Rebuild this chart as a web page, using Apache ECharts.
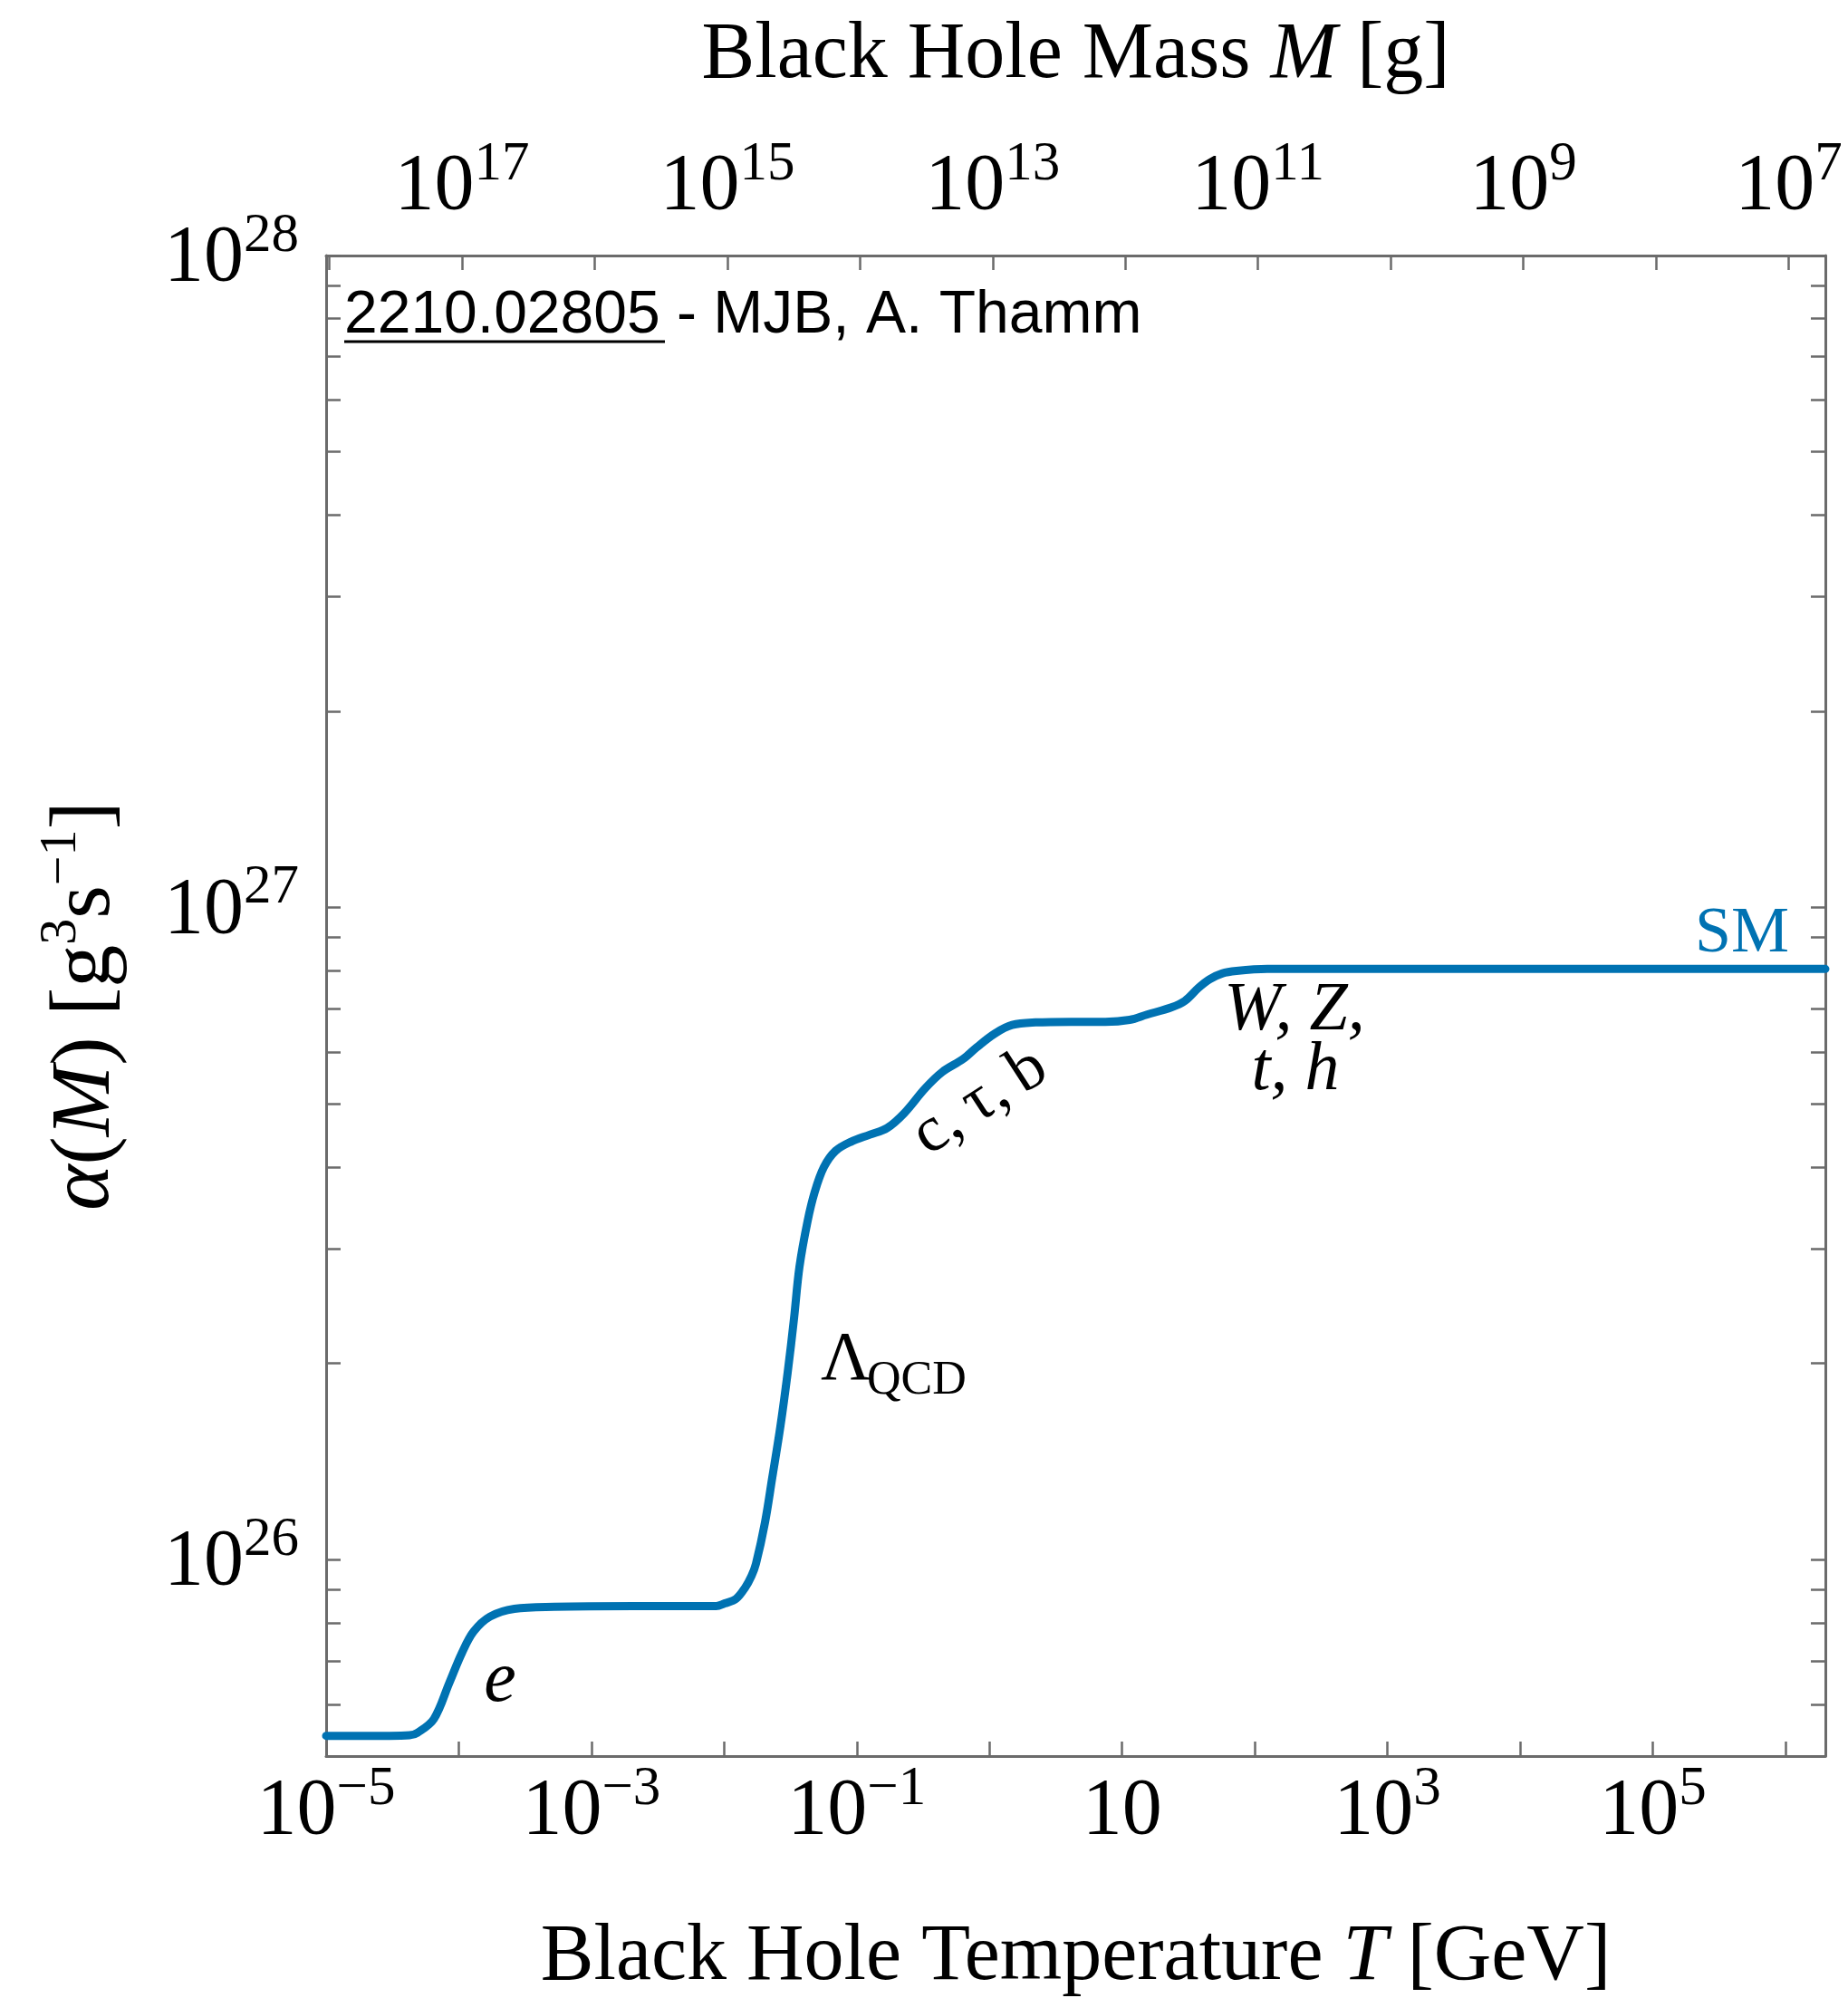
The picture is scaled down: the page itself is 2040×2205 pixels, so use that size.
<!DOCTYPE html>
<html>
<head>
<meta charset="utf-8">
<script src="https://cdn.jsdelivr.net/npm/echarts@6/dist/echarts.min.js"></script>
<style>
  html, body { margin: 0; padding: 0; background: #fff; }
  #chart { width: 2040px; height: 2205px; }
</style>
</head>
<body>
<div id="chart"></div>
<script>
// ---- data ----
const T_GeV = [1.0e-5, 3.0e-5, 4.25e-5, 4.89e-5, 6.49e-5, 8.47e-5, 1.054e-4, 1.294e-4, 1.718e-4, 2.624e-4,
  5.24e-4, 2.08e-3, 8.71e-3, 1.009e-2, 1.23e-2, 1.439e-2, 1.607e-2, 1.738e-2, 2.032e-2, 2.307e-2,
  2.655e-2, 3.013e-2, 3.365e-2, 3.698e-2, 4.256e-2, 4.819e-2, 5.649e-2, 6.918e-2, 9.036e-2, 0.1259,
  0.1694, 0.2286, 0.3281, 0.4416, 0.6339, 0.8035, 1.099, 1.483, 2.228, 4.111,
  7.464, 11.40, 15.38, 23.50, 29.72, 37.67, 45.50, 56.62, 72.78, 124.2, 2.0e6];
const alphaSM = [5.37e25, 5.37e25, 5.38e25, 5.43e25, 5.70e25, 6.47e25, 7.19e25, 7.76e25, 8.18e25, 8.41e25,
  8.47e25, 8.49e25, 8.49e25, 8.57e25, 8.71e25, 9.06e25, 9.44e25, 9.86e25, 1.140e26, 1.337e26,
  1.600e26, 1.936e26, 2.344e26, 2.812e26, 3.304e26, 3.664e26, 4.000e26, 4.236e26, 4.375e26, 4.487e26,
  4.592e26, 4.842e26, 5.284e26, 5.598e26, 5.861e26, 6.109e26, 6.412e26, 6.607e26, 6.668e26, 6.683e26,
  6.683e26, 6.730e26, 6.855e26, 7.031e26, 7.194e26, 7.534e26, 7.762e26, 7.925e26, 7.998e26, 8.054e26, 8.054e26];

// axis ranges and ticks
const T_MIN = 1e-5, T_MAX = 2e6;
const A_MIN = 5e25, A_MAX = 1e28;
const HAWKING_TM = 1.058e13; // T[GeV] * M[g]
const tempTicks = [1e-5, 1e-4, 1e-3, 1e-2, 1e-1, 1e0, 1e1, 1e2, 1e3, 1e4, 1e5, 1e6];
const tempLabels = [1e-5, 1e-3, 1e-1, 1e1, 1e3, 1e5];
const massTicks = [1e7, 1e8, 1e9, 1e10, 1e11, 1e12, 1e13, 1e14, 1e15, 1e16, 1e17, 1e18];
const massLabels = [1e7, 1e9, 1e11, 1e13, 1e15, 1e17];
const alphaTicks = [5e25, 6e25, 7e25, 8e25, 9e25,
  1e26, 2e26, 3e26, 4e26, 5e26, 6e26, 7e26, 8e26, 9e26,
  1e27, 2e27, 3e27, 4e27, 5e27, 6e27, 7e27, 8e27, 9e27, 1e28];
const alphaLabels = [1e26, 1e27, 1e28];

const SERIF = '"Liberation Serif", "Times New Roman", serif';
const SANS = '"Liberation Sans", Arial, sans-serif';
const AXIS_GRAY = '#6b6b6b';
const BLUE = '#0072b2';

function powLabel(v) {
  const e = Math.round(Math.log10(v));
  if (e === 1) return '{b|10}';
  return '{b|10}{s|' + (e < 0 ? '\u2212' + (-e) : String(e)) + '}';
}
const tickRich = {
  b: { fontFamily: SERIF, fontSize: 88, lineHeight: 88, color: '#000', verticalAlign: 'bottom' },
  s: { fontFamily: SERIF, fontSize: 61, lineHeight: 61, color: '#000', verticalAlign: 'bottom', padding: [0, 0, 39, 0] }
};

const chart = echarts.init(document.getElementById('chart'), null, { renderer: 'canvas' });

const axisLineStyle = { show: true, onZero: false, lineStyle: { color: AXIS_GRAY, width: 3 } };
const tickStyle = { lineStyle: { color: AXIS_GRAY, width: 2.5 } };

const option = {
  animation: false,
  backgroundColor: '#fff',
  grid: { left: 360, top: 282, width: 1655, height: 1656, containLabel: false, outerBoundsMode: 'none' },
  xAxis: [
    {
      type: 'log', logBase: 10, min: T_MIN, max: T_MAX, position: 'bottom',
      axisLine: axisLineStyle,
      axisTick: Object.assign({ show: true, inside: true, length: 16, customValues: tempTicks }, tickStyle),
      minorTick: { show: false },
      splitLine: { show: false },
      axisLabel: { show: true, margin: 18, customValues: tempLabels, formatter: powLabel, rich: tickRich },
      name: 'Black Hole Temperature {i|T} [GeV]',
      nameLocation: 'middle', nameGap: 179,
      nameTextStyle: { fontFamily: SERIF, fontSize: 88, color: '#000',
        rich: { i: { fontFamily: SERIF, fontSize: 88, fontStyle: 'italic', color: '#000' } } }
    },
    {
      type: 'log', logBase: 10, inverse: true, position: 'top',
      min: HAWKING_TM / T_MAX, max: HAWKING_TM / T_MIN,
      axisLine: axisLineStyle,
      axisTick: Object.assign({ show: true, inside: true, length: 16, customValues: massTicks }, tickStyle),
      minorTick: { show: false },
      splitLine: { show: false },
      axisLabel: { show: true, margin: 31, customValues: massLabels, formatter: powLabel, rich: tickRich },
      name: 'Black Hole Mass {i|M} [g]',
      nameLocation: 'middle', nameGap: 176,
      nameTextStyle: { fontFamily: SERIF, fontSize: 88, color: '#000',
        rich: { i: { fontFamily: SERIF, fontSize: 88, fontStyle: 'italic', color: '#000' } } }
    }
  ],
  yAxis: [
    {
      type: 'log', logBase: 10, min: A_MIN, max: A_MAX, position: 'left',
      axisLine: axisLineStyle,
      axisTick: Object.assign({ show: true, inside: true, length: 16, customValues: alphaTicks }, tickStyle),
      minorTick: { show: false },
      splitLine: { show: false },
      axisLabel: { show: true, margin: 30, customValues: alphaLabels, formatter: powLabel, rich: tickRich,
        padding: [8, 0, 0, 0] },
      name: '{a|\u03b1}{n|(}{i|M}{n|) [g}{s|3}{n|s}{s|\u22121}{n|]}',
      nameLocation: 'middle', nameGap: 218, nameRotate: 90,
      nameTextStyle: {
        rich: {
          a: { fontFamily: SERIF, fontSize: 96, lineHeight: 96, fontStyle: 'italic', color: '#000', verticalAlign: 'bottom' },
          i: { fontFamily: SERIF, fontSize: 94, lineHeight: 94, fontStyle: 'italic', color: '#000', verticalAlign: 'bottom' },
          n: { fontFamily: SERIF, fontSize: 94, lineHeight: 94, color: '#000', verticalAlign: 'bottom' },
          s: { fontFamily: SERIF, fontSize: 58, lineHeight: 58, color: '#000', verticalAlign: 'bottom', padding: [0, 0, 45, 0] }
        }
      }
    },
    {
      type: 'log', logBase: 10, min: A_MIN, max: A_MAX, position: 'right',
      axisLine: axisLineStyle,
      axisTick: Object.assign({ show: true, inside: true, length: 16, customValues: alphaTicks }, tickStyle),
      minorTick: { show: false },
      splitLine: { show: false },
      axisLabel: { show: false }
    }
  ],
  series: [
    {
      name: 'SM', type: 'line', xAxisIndex: 0, yAxisIndex: 0,
      data: T_GeV.map((t, i) => [t, alphaSM[i]]),
      showSymbol: false, symbol: 'none',
      smooth: 0.35,
      lineStyle: { color: BLUE, width: 9, join: 'round', cap: 'round' },
      clip: true
    }
  ],
  graphic: {
    elements: [
      { type: 'text', x: 380, y: 349, style: { text: '2210.02805 - MJB, A. Thamm', font: '66px ' + SANS, fill: '#000', align: 'left', verticalAlign: 'middle' } },
      { type: 'line', shape: { x1: 380, y1: 377, x2: 734, y2: 377 }, style: { stroke: '#000', lineWidth: 3 } },
      { type: 'text', x: 552, y: 1856, style: { text: 'e', font: 'italic 80px ' + SERIF, fill: '#000', align: 'center', verticalAlign: 'middle' } },
      { type: 'text', x: 906, y: 1502, style: { text: '\u039b', font: '76px ' + SERIF, fill: '#000', align: 'left', verticalAlign: 'middle' } },
      { type: 'text', x: 957, y: 1524, style: { text: 'QCD', font: '52px ' + SERIF, fill: '#000', align: 'left', verticalAlign: 'middle' } },
      { type: 'text', x: 1082, y: 1216, rotation: 33 * Math.PI / 180, style: { text: 'c,\u2009\u03c4,\u2009b', font: '72px ' + SERIF, fill: '#000', align: 'center', verticalAlign: 'middle' } },
      { type: 'text', x: 1429, y: 1116, style: { text: 'W, Z,', font: 'italic 76px ' + SERIF, fill: '#000', align: 'center', verticalAlign: 'middle' } },
      { type: 'text', x: 1430, y: 1182, style: { text: 't, h', font: 'italic 76px ' + SERIF, fill: '#000', align: 'center', verticalAlign: 'middle' } },
      { type: 'text', x: 1975, y: 1031, style: { text: 'SM', font: '72px ' + SERIF, fill: BLUE, align: 'right', verticalAlign: 'middle' } }
    ]
  }
};
chart.setOption(option);
</script>
</body>
</html>
